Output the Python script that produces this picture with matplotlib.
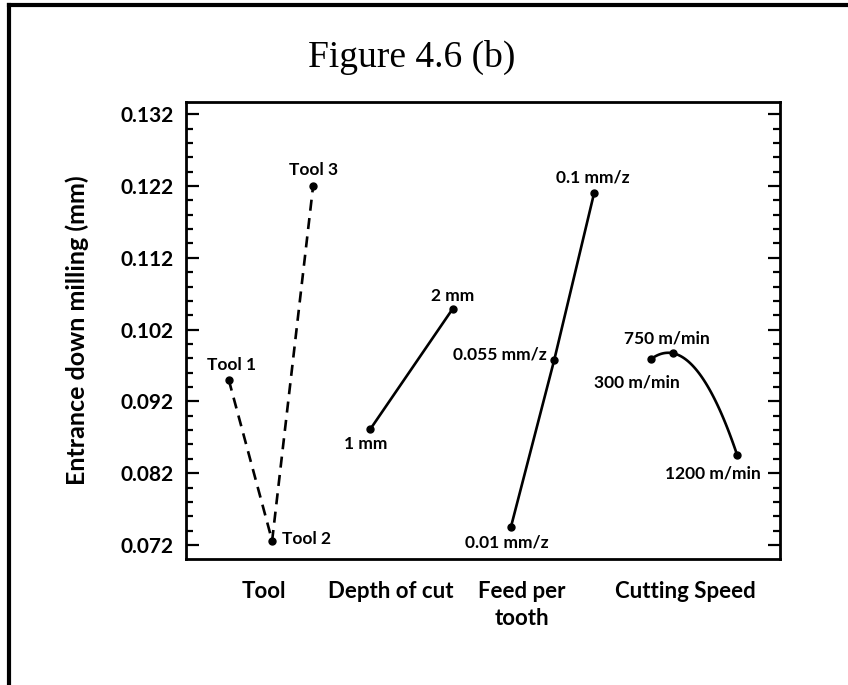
import numpy as np
import matplotlib
matplotlib.use('Agg')
import matplotlib.pyplot as plt
from matplotlib.lines import Line2D

# main effects data
tool_x = [0.72, 1.45, 2.14]
tool_y = [0.0950, 0.0726, 0.1220]
tool_lbl = ['Tool 1', 'Tool 2', 'Tool 3']

depth_x = [3.10, 4.49]
depth_y = [0.0881, 0.1049]
depth_lbl = ['1 mm', '2 mm']

feed_x = [5.47, 6.20, 6.87]
feed_y = [0.0745, 0.0978, 0.1210]
feed_lbl = ['0.01 mm/z', '0.055 mm/z', '0.1 mm/z']

speed_x = [7.83, 8.20, 9.28]
speed_y = [0.0979, 0.0987, 0.0845]
speed_lbl = ['300 m/min', '750 m/min', '1200 m/min']

cat_x = [1.31, 3.45, 5.66, 8.40]
cat_lbl = ['Tool', 'Depth of cut', 'Feed per\ntooth', 'Cutting Speed']

yticks = [0.072, 0.082, 0.092, 0.102, 0.112, 0.122, 0.132]

FONT = 'Lato'

fig = plt.figure(figsize=(8.48, 6.85), dpi=100)
ax = fig.add_axes([186/848, 1-559/685, 594/848, 457/685])

lw = 1.9
ax.plot(tool_x, tool_y, color='black', lw=lw, ls=(0, (4.2, 2.8)), marker='o', ms=5)
ax.plot(depth_x, depth_y, color='black', lw=lw, marker='o', ms=5)
ax.plot(feed_x, feed_y, color='black', lw=lw, marker='o', ms=5)

# smooth curve through cutting speed points
c = np.polyfit(speed_x, speed_y, 2)
xs = np.linspace(speed_x[0], speed_x[-1], 100)
ax.plot(xs, np.polyval(c, xs), color='black', lw=lw)
ax.plot(speed_x, speed_y, 'o', color='black', ms=5)

# label offsets in pixels (dx, dy, ha)
offs = {
    'Tool 1': (3, 15, 'center'), 'Tool 2': (10, 2, 'left'), 'Tool 3': (0, 16, 'center'),
    '1 mm': (-4, -15, 'center'), '2 mm': (0, 13, 'center'),
    '0.01 mm/z': (-4, -15, 'center'), '0.055 mm/z': (-8, 5, 'right'), '0.1 mm/z': (-1, 16, 'center'),
    '300 m/min': (-14, -23, 'center'), '750 m/min': (-6, 15, 'center'), '1200 m/min': (-24, -18, 'center'),
}
for xx, yy, ll in zip(tool_x + depth_x + feed_x + speed_x,
                      tool_y + depth_y + feed_y + speed_y,
                      tool_lbl + depth_lbl + feed_lbl + speed_lbl):
    dx, dy, ha = offs[ll]
    ax.annotate(ll, (xx, yy), xytext=(dx*0.72, dy*0.72), textcoords='offset points',
                ha=ha, va='center', fontsize=12.5, fontweight='bold', family=FONT)

ax.set_xlim(0, 10)
ax.set_ylim(0.07005, 0.1337)
ax.set_yticks(yticks)
ax.set_yticklabels(['%.3f' % v for v in yticks], fontsize=15, fontweight='bold', family=FONT)
ax.set_yticks(np.arange(0.074, 0.132, 0.002), minor=True)
ax.tick_params(axis='y', which='both', direction='in', left=True, right=True, width=1.6, pad=9)
ax.tick_params(axis='y', which='major', length=9)
ax.tick_params(axis='y', which='minor', length=5)

ax.set_xticks(cat_x)
ax.set_xticklabels(cat_lbl, fontsize=16, fontweight='bold', family=FONT, linespacing=1.35)
ax.tick_params(axis='x', length=0, pad=16)

for s in ax.spines.values():
    s.set_linewidth(2)

fig.text(77/848, 1-330/685, 'Entrance down milling (mm)', rotation=90, ha='center', va='center',
         fontsize=18, fontweight='bold', family=FONT)
fig.text(412/848, 1-57/685, 'Figure 4.6 (b)', ha='center', va='center', fontsize=27,
         family='Liberation Serif')

# outer frame (top and left edges)
fig.add_artist(Line2D([9/848, 1], [1-5/685, 1-5/685], color='black', lw=3, transform=fig.transFigure))
fig.add_artist(Line2D([9/848, 9/848], [0, 1-5/685], color='black', lw=3, transform=fig.transFigure))

fig.savefig('out.png', dpi=100)
